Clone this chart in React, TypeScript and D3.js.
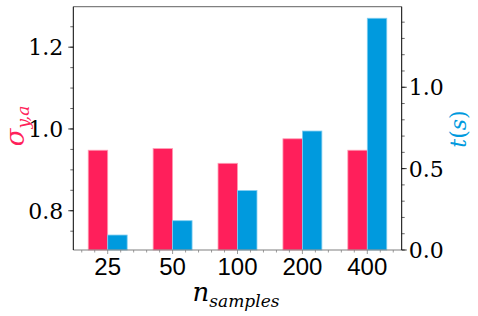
import * as d3 from "d3";

const categories = ["25", "50", "100", "200", "400"];
const sigmaValues = [0.948, 0.952, 0.916, 0.976, 0.948];
const timeValues = [0.092, 0.18, 0.365, 0.731, 1.424];
const leftTicks = [0.8, 1.0, 1.2];
const rightTicks = [0.0, 0.5, 1.0];

const W = 478;
const H = 316;
const m = { left: 73.3, right: 401.7, top: 6.7, bottom: 250 };

const pink = "#ff1f5b";
const blue = "#009ade";
const barW = 0.3;

const serif = "'DejaVu Serif', serif";
const sans = "'Liberation Sans', 'DejaVu Sans', sans-serif";

export default function App() {
  const x = d3.scaleLinear().domain([-0.53, 4.53]).range([m.left, m.right]);
  const yL = d3.scaleLinear().domain([0.704, 1.299]).range([m.bottom, m.top]);
  const yR = d3.scaleLinear().domain([0, 1.495]).range([m.bottom, m.top]);

  const leftMinor = d3.range(0.75, 1.3, 0.05).filter((v) => yL(v) >= m.top && yL(v) <= m.bottom);
  const rightMinor = d3.range(0, 1.5, 0.1);
  const xMinor = d3.range(-0.4, 4.5, 0.2).filter((v) => Math.abs(v - Math.round(v)) > 0.01);

  return (
    <svg
      width={W}
      height={H}
      style={{ position: "fixed", left: 0, top: 0, background: "#fff" }}
    >
      {/* bars */}
      {categories.map((c, i) => (
        <g key={c}>
          <rect
            x={x(i - barW)}
            y={yL(sigmaValues[i])}
            width={x(barW) - x(0)}
            height={m.bottom - yL(sigmaValues[i])}
            fill={pink}
            stroke="#ff9db5"
            strokeWidth={0.8}
          />
          <rect
            x={x(i)}
            y={yR(timeValues[i])}
            width={x(barW) - x(0)}
            height={m.bottom - yR(timeValues[i])}
            fill={blue}
            stroke="#7fcdf0"
            strokeWidth={0.8}
          />
        </g>
      ))}

      {/* spines */}
      <line x1={m.left} x2={m.right} y1={m.top} y2={m.top} stroke="#808080" strokeWidth={1.2} />
      <line x1={m.left} x2={m.right} y1={m.bottom} y2={m.bottom} stroke="#808080" strokeWidth={1.2} />
      <line x1={m.left} x2={m.left} y1={m.top} y2={m.bottom} stroke="#000" strokeWidth={1} />
      <line x1={m.right} x2={m.right} y1={m.top} y2={m.bottom} stroke="#000" strokeWidth={1} />

      {/* x ticks */}
      {categories.map((c, i) => (
        <g key={"xt" + c}>
          <line x1={x(i)} x2={x(i)} y1={m.bottom} y2={m.bottom + 4} stroke="#808080" strokeWidth={0.8} />
          <text x={x(i)} y={m.bottom + 25} textAnchor="middle" fontFamily={sans} fontSize={24} fill="#000">
            {c}
          </text>
        </g>
      ))}
      {xMinor.map((v) => (
        <line key={"xm" + v} x1={x(v)} x2={x(v)} y1={m.bottom} y2={m.bottom + 2.5} stroke="#808080" strokeWidth={0.8} />
      ))}

      {/* left ticks */}
      {leftTicks.map((v) => (
        <g key={"lt" + v}>
          <line x1={m.left - 5} x2={m.left} y1={yL(v)} y2={yL(v)} stroke="#000" strokeWidth={0.8} />
          <text x={m.left - 10} y={yL(v) + 8} textAnchor="end" fontFamily={serif} fontWeight={300} fontSize={22} fill="#000">
            {v.toFixed(1)}
          </text>
        </g>
      ))}
      {leftMinor.map((v) => (
        <line key={"lm" + v} x1={m.left - 3} x2={m.left} y1={yL(v)} y2={yL(v)} stroke="#000" strokeWidth={0.6} />
      ))}

      {/* right ticks */}
      {rightTicks.map((v) => (
        <g key={"rt" + v}>
          <line x1={m.right} x2={m.right + 5} y1={yR(v)} y2={yR(v)} stroke="#000" strokeWidth={0.8} />
          <text x={m.right + 7} y={yR(v) + 8} textAnchor="start" fontFamily={serif} fontWeight={300} fontSize={22} fill="#000">
            {v.toFixed(1)}
          </text>
        </g>
      ))}
      {rightMinor.map((v) => (
        <line key={"rm" + v} x1={m.right} x2={m.right + 3} y1={yR(v)} y2={yR(v)} stroke="#000" strokeWidth={0.6} />
      ))}

      {/* axis labels */}
      <text x={236} y={301} textAnchor="middle" fontFamily={serif} fill="#000">
        <tspan fontStyle="italic" fontSize={26}>n</tspan>
        <tspan fontStyle="italic" fontSize={17} dy={6}>samples</tspan>
      </text>
      <text
        transform={`translate(24,126) rotate(-90)`}
        textAnchor="middle"
        fontFamily={serif}
        fill={pink}
      >
        <tspan fontStyle="italic" fontSize={26}>σ</tspan>
        <tspan fontStyle="italic" fontSize={17} dy={5}>y,a</tspan>
      </text>
      <text
        transform={`translate(466,129) rotate(-90)`}
        textAnchor="middle"
        fontFamily={serif}
        fontSize={22}
        fill={blue}
      >
        <tspan fontStyle="italic">t</tspan>
        <tspan>(</tspan>
        <tspan fontStyle="italic">s</tspan>
        <tspan>)</tspan>
      </text>
    </svg>
  );
}
